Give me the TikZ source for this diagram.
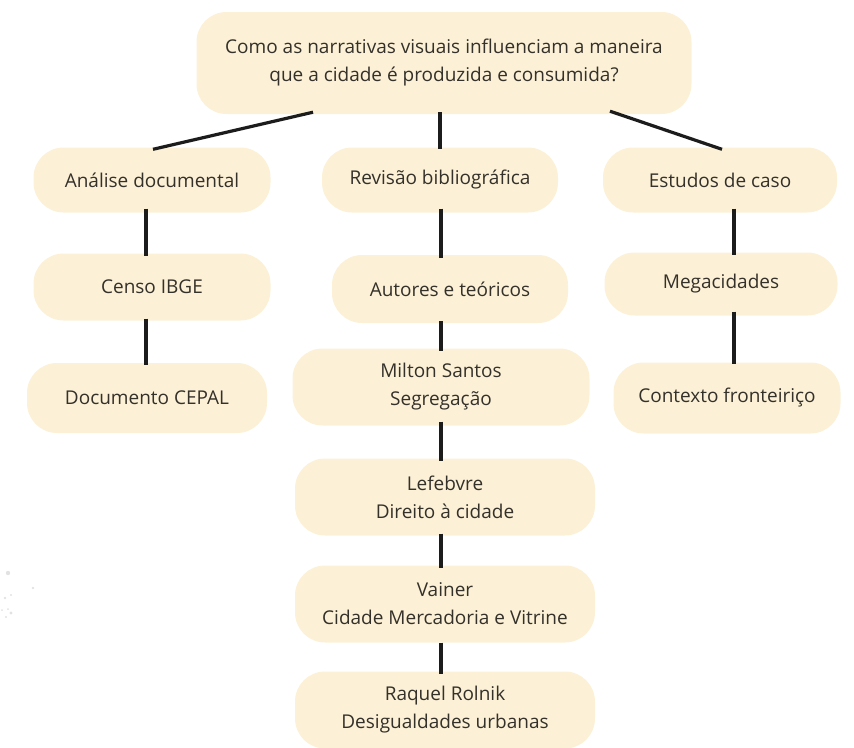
\documentclass[tikz,border=0pt]{standalone}
\usepackage{fontspec}
\setmainfont{Open Sans}
\definecolor{boxfill}{HTML}{FCF1D6}
\definecolor{txt}{HTML}{34302A}
\definecolor{ln}{HTML}{1C1C1C}
\definecolor{speck}{HTML}{E2E2E2}
\begin{document}
\begin{tikzpicture}[x=1pt,y=-1pt,
  box/.style={fill=boxfill, rounded corners=30pt, text=txt, font=\fontsize{19}{28}\selectfont, align=center, inner sep=0pt},
  conn/.style={draw=ln, line width=3.2pt}]
\useasboundingbox (0,0) rectangle (854,747);
% nodes
\node[box, minimum width=495pt, minimum height=102pt] (top) at (444,63) {Como as narrativas visuais influenciam a maneira\\que a cidade é produzida e consumida?};
\node[box, minimum width=237pt, minimum height=65pt] (an) at (152,180) {Análise documental};
\node[box, minimum width=236pt, minimum height=65pt] (rb) at (440,180) {Revisão bibliográfica};
\node[box, minimum width=234pt, minimum height=65pt] (ec) at (720,180) {Estudos de caso};
\node[box, minimum width=237pt, minimum height=67pt] (cen) at (152,287) {Censo IBGE};
\node[box, minimum width=236pt, minimum height=68pt] (aut) at (450,289) {Autores e teóricos};
\node[box, minimum width=233pt, minimum height=63pt] (meg) at (721,284) {Megacidades};
\node[box, minimum width=240pt, minimum height=70pt] (cep) at (147,398) {Documento CEPAL};
\node[box, minimum width=297pt, minimum height=77pt] (mil) at (441,387) {Milton Santos\\Segregação};
\node[box, minimum width=227pt, minimum height=71pt] (ctx) at (727,398) {Contexto fronteiriço};
\node[box, minimum width=300pt, minimum height=77pt] (lef) at (445,497) {Lefebvre\\Direito à cidade};
\node[box, minimum width=300pt, minimum height=77pt] (vai) at (445,604) {Vainer\\Cidade Mercadoria e Vitrine};
\node[box, minimum width=300pt, minimum height=77pt] (raq) at (445,710) {Raquel Rolnik\\Desigualdades urbanas};
% connector x positions
\coordinate (tl) at (313,0);
\coordinate (tc) at (440,0);
\coordinate (tr) at (610,0);
\coordinate (l1) at (153,0);
\coordinate (r1) at (722,0);
\coordinate (cl) at (146,0);
\coordinate (cm) at (441,0);
\coordinate (cr) at (734,0);
% top connectors
\draw[conn] ([yshift=2pt]top.south -| tl) -- ([yshift=-2pt]an.north -| l1);
\draw[conn] ([yshift=2pt]top.south -| tc) -- ([yshift=-2pt]rb.north -| tc);
\draw[conn] ([yshift=3pt]top.south -| tr) -- ([yshift=-2pt]ec.north -| r1);
% left column
\draw[conn] ([yshift=4pt]an.south -| cl) -- ([yshift=-3pt]cen.north -| cl);
\draw[conn] ([yshift=2pt]cen.south -| cl) -- ([yshift=-2pt]cep.north -| cl);
% middle column
\draw[conn] ([yshift=4pt]rb.south -| cm) -- ([yshift=-3pt]aut.north -| cm);
\draw[conn] ([yshift=2pt]aut.south -| cm) -- ([yshift=-3pt]mil.north -| cm);
\draw[conn] ([yshift=4pt]mil.south -| cm) -- ([yshift=-3pt]lef.north -| cm);
\draw[conn] ([yshift=2pt]lef.south -| cm) -- ([yshift=-3pt]vai.north -| cm);
\draw[conn] (vai.south -| cm) -- ([yshift=-3pt]raq.north -| cm);
% right column
\draw[conn] ([yshift=4pt]ec.south -| cr) -- ([yshift=-3pt]meg.north -| cr);
\draw[conn] ([yshift=4pt]meg.south -| cr) -- ([yshift=-2pt]ctx.north -| cr);
% faint specks
\foreach \p/\r in {{(8,573)}/2.2, {(33,588)}/1.4, {(5,598)}/1.4, {(11,595)}/1.2, {(2,610)}/1, {(8,609)}/1, {(11,613)}/1.6, {(6,617)}/1.2}
  \fill[speck] \p circle (\r pt);
\end{tikzpicture}
\end{document}
